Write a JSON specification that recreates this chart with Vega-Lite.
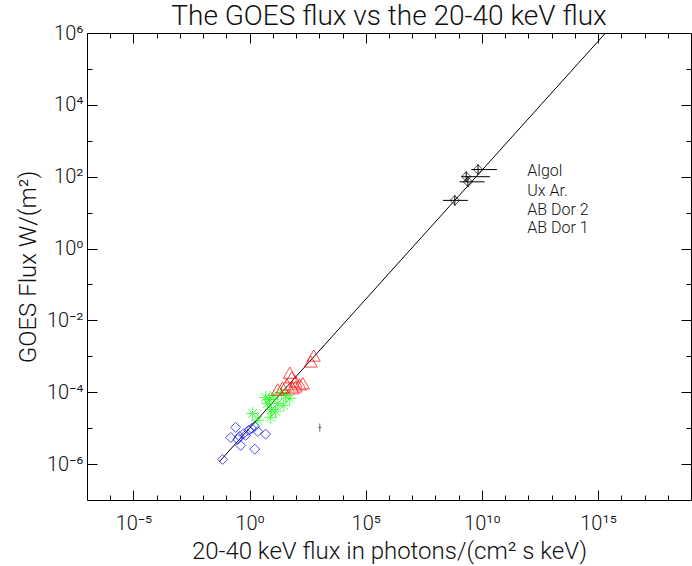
{
  "$schema": "https://vega.github.io/schema/vega-lite/v6.json",
  "width": 604,
  "height": 467,
  "autosize": "none",
  "padding": {"left": 87, "top": 33, "right": 1, "bottom": 66},
  "background": "white",
  "config": {
    "view": {"stroke": "black", "strokeWidth": 1},
    "font": "Roboto",
    "axis": {
      "grid": false,
      "domain": false,
      "tickColor": "black",
      "tickWidth": 1,
      "labelFont": "Roboto",
      "labelFontWeight": 300,
      "labelColor": "#111",
      "titleFont": "Roboto",
      "titleFontWeight": 300,
      "titleColor": "#111",
      "labelOverlap": false,
      "labelFlush": false
    }
  },
  "title": {
    "text": "The GOES flux vs the 20-40 keV flux",
    "fontSize": 28,
    "font": "Roboto",
    "fontWeight": 300,
    "color": "#111",
    "offset": -8,
    "anchor": "middle"
  },
  "datasets": {
    "fit": [
      {"x": 0.05, "y": 1.17e-6},
      {"x": 2.1e15, "y": 1e6}
    ],
    "blue": [
      {"x": 0.069, "y": 1.35e-6},
      {"x": 0.155, "y": 5.5e-6},
      {"x": 0.251, "y": 1.05e-5},
      {"x": 0.372, "y": 5.9e-6},
      {"x": 0.417, "y": 3.3e-6},
      {"x": 0.562, "y": 7.1e-6},
      {"x": 0.676, "y": 6.3e-6},
      {"x": 0.912, "y": 8.7e-6},
      {"x": 1.23, "y": 9.8e-6},
      {"x": 1.66, "y": 1.12e-5},
      {"x": 2.24, "y": 8.1e-6},
      {"x": 4.9, "y": 6.8e-6},
      {"x": 1.66, "y": 2.6e-6},
      {"x": 0.309, "y": 4.9e-6}
    ],
    "green": [
      {"x": 1.35, "y": 2.57e-5},
      {"x": 2.24, "y": 1.66e-5},
      {"x": 4.9, "y": 7.2e-5},
      {"x": 6.0, "y": 4.9e-5},
      {"x": 7.2, "y": 6.3e-5},
      {"x": 8.9, "y": 3.3e-5},
      {"x": 8.1, "y": 2.0e-5},
      {"x": 13.2, "y": 2.95e-5},
      {"x": 16.2, "y": 4.9e-5},
      {"x": 24, "y": 9.8e-5},
      {"x": 29.5, "y": 4.3e-5},
      {"x": 53.7, "y": 6.8e-5},
      {"x": 35.5, "y": 8.1e-5},
      {"x": 11.0, "y": 8.1e-5}
    ],
    "red": [
      {"x": 575, "y": 1.05e-3},
      {"x": 427, "y": 7.2e-4},
      {"x": 54, "y": 3.5e-4},
      {"x": 65, "y": 2.6e-4},
      {"x": 95, "y": 2.0e-4},
      {"x": 145, "y": 1.66e-4},
      {"x": 40, "y": 1.66e-4},
      {"x": 26, "y": 1.35e-4},
      {"x": 16.2, "y": 1.2e-4},
      {"x": 71, "y": 1.29e-4},
      {"x": 195, "y": 1.78e-4},
      {"x": 95, "y": 1.45e-4}
    ],
    "black": [
      {"x": 6.8e9, "y": 158, "xlo": 3.5e9, "xhi": 4.4e10, "ylo": 112, "yhi": 224},
      {"x": 2.1e9, "y": 100, "xlo": 1.3e9, "xhi": 2.2e10, "ylo": 71, "yhi": 141},
      {"x": 2.5e9, "y": 72, "xlo": 1.1e9, "xhi": 1.3e10, "ylo": 51, "yhi": 102},
      {"x": 6.8e8, "y": 21.9, "xlo": 2.1e8, "xhi": 2.5e9, "ylo": 15.5, "yhi": 31}
    ],
    "typical": [
      {"x": 1050, "y": 1.05e-5, "xlo": 902, "xhi": 1216, "ylo": 8e-6, "yhi": 1.35e-5}
    ],
    "legend": [
      {"x": 9e11, "y": 141, "label": "Algol"},
      {"x": 9e11, "y": 39.3, "label": "Ux Ar."},
      {"x": 9e11, "y": 11.9, "label": "AB Dor 2"},
      {"x": 9e11, "y": 3.67, "label": "AB Dor 1"}
    ]
  },
  "layer": [
    {
      "data": {"name": "fit"},
      "mark": {"type": "line", "color": "black", "strokeWidth": 1},
      "encoding": {
        "x": {
          "field": "x", "type": "quantitative",
          "scale": {"type": "log", "domain": [1e-7, 1e19], "nice": false},
          "axis": {
            "orient": "bottom",
            "values": [1e-5, 1, 1e5, 1e10, 1e15],
            "offset": -10,
            "tickSize": 10,
            "labelFontSize": 20,
            "labelPadding": 13,
            "labelExpr": "round(log(datum.value)/LN10) == -5 ? '10⁻⁵' : round(log(datum.value)/LN10) == 0 ? '10⁰' : round(log(datum.value)/LN10) == 5 ? '10⁵' : round(log(datum.value)/LN10) == 10 ? '10¹⁰' : '10¹⁵'",
            "title": "20-40 keV flux in photons/(cm² s keV)",
            "titleFontSize": 24,
            "titlePadding": 6
          }
        },
        "y": {
          "field": "y", "type": "quantitative",
          "scale": {"type": "log", "domain": [1e-7, 1e6], "nice": false},
          "axis": {
            "orient": "left",
            "values": [1e-6, 1e-4, 1e-2, 1, 1e2, 1e4, 1e6],
            "offset": -10,
            "tickSize": 10,
            "labelFontSize": 20,
            "labelPadding": 4,
            "labelExpr": "round(log(datum.value)/LN10) == -6 ? '10⁻⁶' : round(log(datum.value)/LN10) == -4 ? '10⁻⁴' : round(log(datum.value)/LN10) == -2 ? '10⁻²' : round(log(datum.value)/LN10) == 0 ? '10⁰' : round(log(datum.value)/LN10) == 2 ? '10²' : round(log(datum.value)/LN10) == 4 ? '10⁴' : '10⁶'",
            "title": "GOES Flux W/(m²)",
            "titleFontSize": 24,
            "titlePadding": 6
          }
        }
      }
    },
    {
      "data": {"name": "blue"},
      "mark": {"type": "point", "shape": "diamond", "filled": false, "color": "#0000ff", "size": 100, "strokeWidth": 1},
      "encoding": {
        "x": {
          "field": "x", "type": "quantitative",
          "scale": {"type": "log", "domain": [1e-7, 1e19], "nice": false},
          "axis": {
            "orient": "bottom",
            "values": [1e-6, 1e-5, 1e-4, 1e-3, 1e-2, 1e-1, 1, 1e1, 1e2, 1e3, 1e4, 1e5, 1e6, 1e7, 1e8, 1e9, 1e10, 1e11, 1e12, 1e13, 1e14, 1e15, 1e16, 1e17, 1e18],
            "offset": -5,
            "tickSize": 5,
            "labels": false,
            "title": null
          }
        },
        "y": {
          "field": "y", "type": "quantitative",
          "scale": {"type": "log", "domain": [1e-7, 1e6], "nice": false},
          "axis": {
            "orient": "left",
            "values": [1e-6, 1e-5, 1e-4, 1e-3, 1e-2, 1e-1, 1, 1e1, 1e2, 1e3, 1e4, 1e5],
            "offset": -5,
            "tickSize": 5,
            "labels": false,
            "title": null
          }
        }
      }
    },
    {
      "data": {"name": "green"},
      "mark": {"type": "point", "shape": "M-1,0L1,0M0,-1L0,1M-0.7,-0.7L0.7,0.7M-0.7,0.7L0.7,-0.7", "filled": false, "color": "#00ff00", "size": 170, "strokeWidth": 1},
      "encoding": {
        "x": {
          "field": "x", "type": "quantitative",
          "scale": {"type": "log", "domain": [1e-7, 1e19], "nice": false},
          "axis": {
            "orient": "top",
            "values": [1e-5, 1, 1e5, 1e10, 1e15],
            "offset": -10,
            "tickSize": 10,
            "labels": false,
            "title": null
          }
        },
        "y": {
          "field": "y", "type": "quantitative",
          "scale": {"type": "log", "domain": [1e-7, 1e6], "nice": false},
          "axis": {
            "orient": "right",
            "values": [1e-6, 1e-4, 1e-2, 1, 1e2, 1e4],
            "offset": -10,
            "tickSize": 10,
            "labels": false,
            "title": null
          }
        }
      }
    },
    {
      "data": {"name": "red"},
      "mark": {"type": "point", "shape": "triangle-up", "filled": false, "color": "#ff0000", "size": 170, "strokeWidth": 1},
      "encoding": {
        "x": {
          "field": "x", "type": "quantitative",
          "scale": {"type": "log", "domain": [1e-7, 1e19], "nice": false},
          "axis": {
            "orient": "top",
            "values": [1e-6, 1e-5, 1e-4, 1e-3, 1e-2, 1e-1, 1, 1e1, 1e2, 1e3, 1e4, 1e5, 1e6, 1e7, 1e8, 1e9, 1e10, 1e11, 1e12, 1e13, 1e14, 1e15, 1e16, 1e17, 1e18],
            "offset": -5,
            "tickSize": 5,
            "labels": false,
            "title": null
          }
        },
        "y": {
          "field": "y", "type": "quantitative",
          "scale": {"type": "log", "domain": [1e-7, 1e6], "nice": false},
          "axis": {
            "orient": "right",
            "values": [1e-6, 1e-5, 1e-4, 1e-3, 1e-2, 1e-1, 1, 1e1, 1e2, 1e3, 1e4, 1e5],
            "offset": -5,
            "tickSize": 5,
            "labels": false,
            "title": null
          }
        }
      }
    },
    {
      "data": {"name": "black"},
      "mark": {"type": "rule", "color": "black", "strokeWidth": 1},
      "encoding": {
        "x": {"field": "xlo", "type": "quantitative", "axis": null, "scale": {"type": "log", "domain": [1e-7, 1e19], "nice": false}},
        "x2": {"field": "xhi"},
        "y": {"field": "y", "type": "quantitative", "axis": null, "scale": {"type": "log", "domain": [1e-7, 1e6], "nice": false}}
      }
    },
    {
      "data": {"name": "black"},
      "mark": {"type": "rule", "color": "black", "strokeWidth": 1},
      "encoding": {
        "x": {"field": "x", "type": "quantitative", "axis": null, "scale": {"type": "log", "domain": [1e-7, 1e19], "nice": false}},
        "y": {"field": "ylo", "type": "quantitative", "axis": null, "scale": {"type": "log", "domain": [1e-7, 1e6], "nice": false}},
        "y2": {"field": "yhi"}
      }
    },
    {
      "data": {"name": "black"},
      "mark": {"type": "point", "shape": "diamond", "filled": false, "color": "black", "size": 90, "strokeWidth": 1},
      "encoding": {
        "x": {"field": "x", "type": "quantitative", "axis": null, "scale": {"type": "log", "domain": [1e-7, 1e19], "nice": false}},
        "y": {"field": "y", "type": "quantitative", "axis": null, "scale": {"type": "log", "domain": [1e-7, 1e6], "nice": false}}
      }
    },
    {
      "data": {"name": "typical"},
      "mark": {"type": "rule", "color": "#666", "strokeWidth": 1},
      "encoding": {
        "x": {"field": "x", "type": "quantitative", "axis": null, "scale": {"type": "log", "domain": [1e-7, 1e19], "nice": false}},
        "y": {"field": "ylo", "type": "quantitative", "axis": null, "scale": {"type": "log", "domain": [1e-7, 1e6], "nice": false}},
        "y2": {"field": "yhi"}
      }
    },
    {
      "data": {"name": "typical"},
      "mark": {"type": "rule", "color": "#666", "strokeWidth": 1},
      "encoding": {
        "x": {"field": "xlo", "type": "quantitative", "axis": null, "scale": {"type": "log", "domain": [1e-7, 1e19], "nice": false}},
        "x2": {"field": "xhi"},
        "y": {"field": "y", "type": "quantitative", "axis": null, "scale": {"type": "log", "domain": [1e-7, 1e6], "nice": false}}
      }
    },
    {
      "data": {"name": "legend"},
      "mark": {"type": "text", "align": "left", "baseline": "middle", "fontSize": 16, "font": "Roboto", "fontWeight": 300, "color": "#111"},
      "encoding": {
        "x": {"field": "x", "type": "quantitative", "axis": null, "scale": {"type": "log", "domain": [1e-7, 1e19], "nice": false}},
        "y": {"field": "y", "type": "quantitative", "axis": null, "scale": {"type": "log", "domain": [1e-7, 1e6], "nice": false}},
        "text": {"field": "label", "type": "nominal"}
      }
    }
  ],
  "resolve": {"axis": {"x": "independent", "y": "independent"}}
}
